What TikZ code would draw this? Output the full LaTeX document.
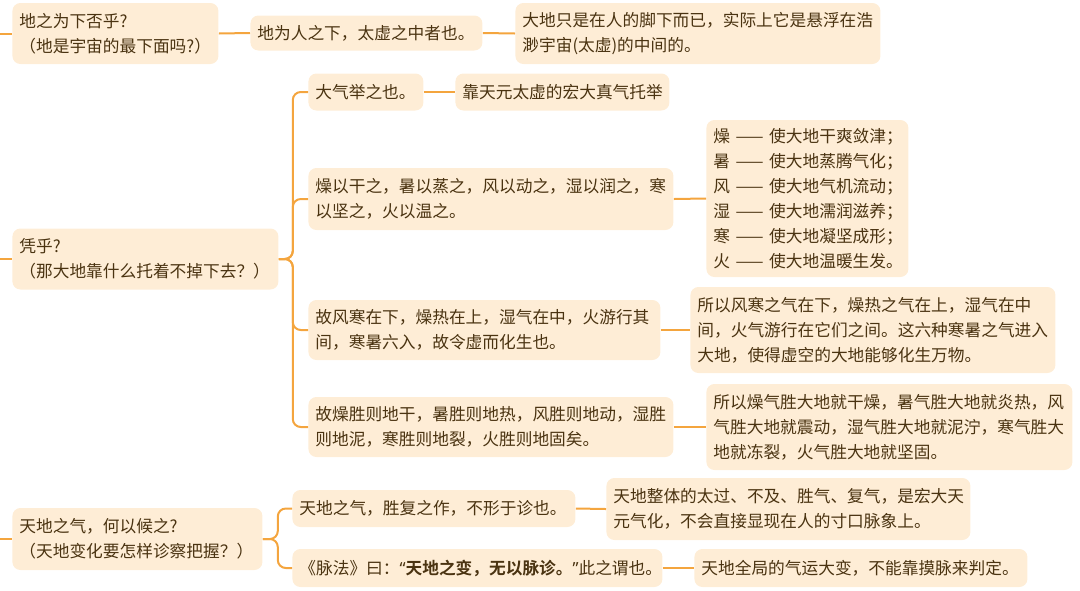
\documentclass[tikz,border=0pt]{standalone}
\usepackage{fontspec}
\setmainfont{Noto Sans CJK SC}[BoldFont={Noto Sans CJK SC Bold}]
\newfontfamily\latinfont{Noto Sans}
\definecolor{boxfill}{HTML}{FEEDD6}
\definecolor{linkc}{HTML}{F4A53E}
\definecolor{txt}{HTML}{4A3311}
\begin{document}
\begin{tikzpicture}[
  x=0.5pt, y=-0.5pt,
  font=\fontsize{8.35}{12.5}\selectfont,
  box/.style={fill=boxfill, text=txt, rounded corners=4pt, inner xsep=3.5pt, inner ysep=0pt, anchor=west, align=left},
  link/.style={draw=linkc, line width=1pt, rounded corners=4pt}
]
  \useasboundingbox (0,0) rectangle (1080,590);
  % first question
  \node[box, text width=96pt, minimum height=30.5pt] (a1) at (12,33.5) {地之为下否乎?\\（地是宇宙的最下面吗?）};
  \node[box, text width=109pt, minimum height=17.5pt] (a2) at (250,33) {地为人之下，太虚之中者也。};
  \node[box, text width=175.5pt, minimum height=30.5pt] (a3) at (515,33.5) {大地只是在人的脚下而已，实际上它是悬浮在浩\\渺宇宙(太虚)的中间的。};
  \coordinate (la) at (0,33.5);
  \draw[link] (la) -- (a1.west);
  \draw[link] (a1.east) -- (a2.west);
  \draw[link] (a2.east) -- (a3.west);

  % second question
  \node[box, text width=126pt, minimum height=30.5pt] (b) at (12,259) {凭乎?\\（那大地靠什么托着不掉下去？）};
  \node[box, text width=50.5pt, minimum height=18.5pt] (b1) at (308,92) {大气举之也。};
  \node[box, text width=100pt, minimum height=18.5pt] (b1a) at (455,92) {靠天元太虚的宏大真气托举};
  \node[box, text width=175.5pt, minimum height=31pt] (b2) at (308,199) {燥以干之，暑以蒸之，风以动之，湿以润之，寒\\以坚之，火以温之。};
  \node[box, text width=94pt, minimum height=78.5pt] (b2a) at (706,198.5) {\mbox{燥 —— 使大地干爽敛津；}\\\mbox{暑 —— 使大地蒸腾气化；}\\\mbox{风 —— 使大地气机流动；}\\\mbox{湿 —— 使大地濡润滋养；}\\\mbox{寒 —— 使大地凝坚成形；}\\\mbox{火 —— 使大地温暖生发。}};
  \node[box, text width=169pt, minimum height=30pt] (b3) at (308,330) {故风寒在下，燥热在上，湿气在中，火游行其\\间，寒暑六入，故令虚而化生也。};
  \node[box, text width=175.5pt, minimum height=43pt] (b3a) at (690,330) {所以风寒之气在下，燥热之气在上，湿气在中\\间，火气游行在它们之间。这六种寒暑之气进入\\大地，使得虚空的大地能够化生万物。};
  \node[box, text width=175.5pt, minimum height=30pt] (b4) at (308,427) {故燥胜则地干，暑胜则地热，风胜则地动，湿胜\\则地泥，寒胜则地裂，火胜则地固矣。};
  \node[box, text width=176pt, minimum height=43pt] (b4a) at (706,427) {所以燥气胜大地就干燥，暑气胜大地就炎热，风\\气胜大地就震动，湿气胜大地就泥泞，寒气胜大\\地就冻裂，火气胜大地就坚固。};
  \coordinate (lb) at (0,259);
  \draw[link] (lb) -- (b.west);
  \draw[link] (b.east) -- ++(14,0) |- (b1.west);
  \draw[link] (b.east) -- ++(14,0) |- (b2.west);
  \draw[link] (b.east) -- ++(14,0) |- (b3.west);
  \draw[link] (b.east) -- ++(14,0) |- (b4.west);
  \draw[link] (b1.east) -- (b1a.west);
  \draw[link] (b2.east) -- (b2a.west);
  \draw[link] (b3.east) -- (b3a.west);
  \draw[link] (b4.east) -- (b4a.west);

  % third question
  \node[box, text width=118pt, minimum height=31pt] (c) at (12,539) {天地之气，何以候之?\\（天地变化要怎样诊察把握？）};
  \node[box, text width=134.5pt, minimum height=18.5pt] (c1) at (292,508.5) {天地之气，胜复之作，不形于诊也。};
  \node[box, text width=175pt, minimum height=31pt] (c1a) at (606,509) {天地整体的太过、不及、胜气、复气，是宏大天\\元气化，不会直接显现在人的寸口脉象上。};
  \node[box, text width=178pt, minimum height=19pt] (c2) at (292,568) {《脉法》曰：{\bfseries{\latinfont “}天地之变，无以脉诊。}{\latinfont ”}此之谓也。};
  \node[box, text width=159.5pt, minimum height=19pt] (c2a) at (694,568) {天地全局的气运大变，不能靠摸脉来判定。};
  \coordinate (lc) at (0,539);
  \draw[link] (lc) -- (c.west);
  \draw[link] (c.east) -- ++(15,0) |- (c1.west);
  \draw[link] (c.east) -- ++(15,0) |- (c2.west);
  \draw[link] (c1.east) -- (c1a.west);
  \draw[link] (c2.east) -- (c2a.west);
\end{tikzpicture}
\end{document}
